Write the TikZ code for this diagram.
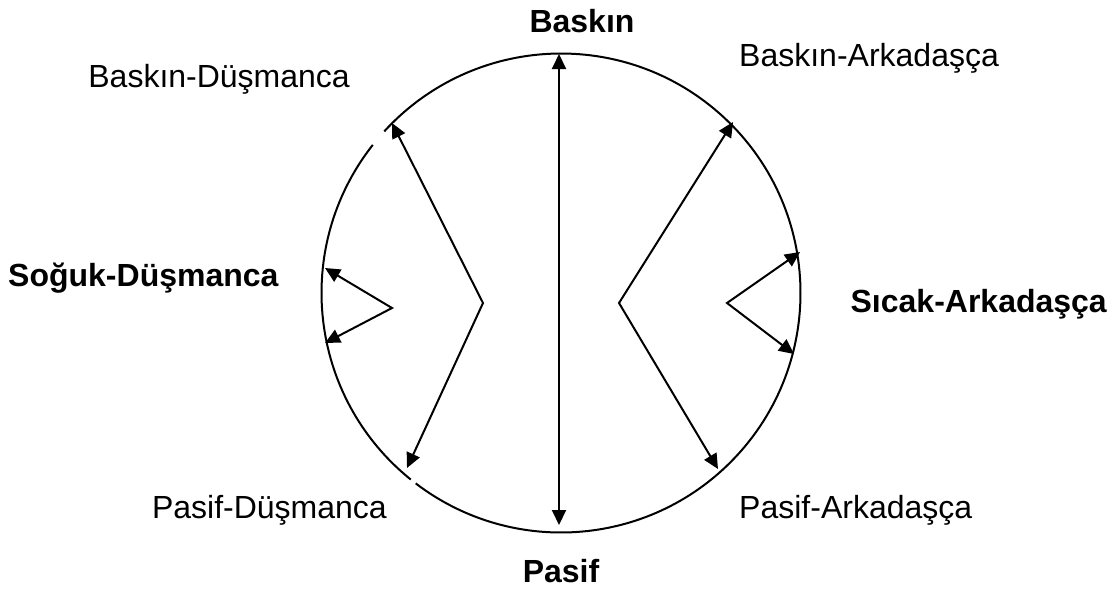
\documentclass[tikz,border=0pt]{standalone}
\usepackage{fontspec}
\setmainfont{Liberation Sans}
\usetikzlibrary{arrows.meta}
\begin{document}
\begin{tikzpicture}[x=1pt,y=-1pt,
  lbl/.style={font=\fontsize{32}{38}\selectfont, inner sep=0pt},
  blbl/.style={font=\fontsize{32}{38}\selectfont\bfseries, inner sep=0pt},
  dblarr/.style={line width=2pt, {Triangle[length=15pt,width=14pt]}-{Triangle[length=15pt,width=14pt]}},
  ring/.style={line width=2pt}]
\useasboundingbox (0,0) rectangle (1115,590);
\fill[white] (0,0) rectangle (1115,590);
% circle centre
\coordinate (c) at (561,293);
\draw[ring] ([shift={(128.85:239.5)}]c) arc[start angle=128.85, end angle=218.2, radius=239.5];
\draw[ring] ([shift={(222.45:239.5)}]c) arc[start angle=222.45, end angle=487.35, radius=239.5];
% arrow end points
\coordinate (top) at (559,54);
\coordinate (bot) at (559,525);
\coordinate (lt) at (392,123);
\coordinate (lv) at (483,303);
\coordinate (lb) at (407,468);
\coordinate (rt) at (733,122);
\coordinate (rv) at (619,303);
\coordinate (rb) at (718,469);
\coordinate (slt) at (325,268);
\coordinate (slv) at (392,308);
\coordinate (slb) at (325,343);
\coordinate (srt) at (800,252);
\coordinate (srv) at (727,303);
\coordinate (srb) at (794,354);
% arrows
\draw[dblarr] (top) -- (bot);
\draw[dblarr] (lt) -- (lv) -- (lb);
\draw[dblarr] (rt) -- (rv) -- (rb);
\draw[dblarr] (slt) -- (slv) -- (slb);
\draw[dblarr] (srt) -- (srv) -- (srb);
% labels
\node[blbl, anchor=base] (baskin) at (582,32) {Baskın};
\node[blbl, anchor=base] (pasif) at (561,582) {Pasif};
\node[lbl, anchor=base east] (bd) at (350,87) {Baskın-Düşmanca};
\node[lbl, anchor=base west] (ba) at (739,66) {Baskın-Arkadaşça};
\node[blbl, anchor=base west] (sd) at (8,286) {Soğuk-Düşmanca};
\node[blbl, anchor=base east] (sa) at (1107,312) {Sıcak-Arkadaşça};
\node[lbl, anchor=base east] (pd) at (387,518) {Pasif-Düşmanca};
\node[lbl, anchor=base west] (pa) at (739,518) {Pasif-Arkadaşça};
\end{tikzpicture}
\end{document}
